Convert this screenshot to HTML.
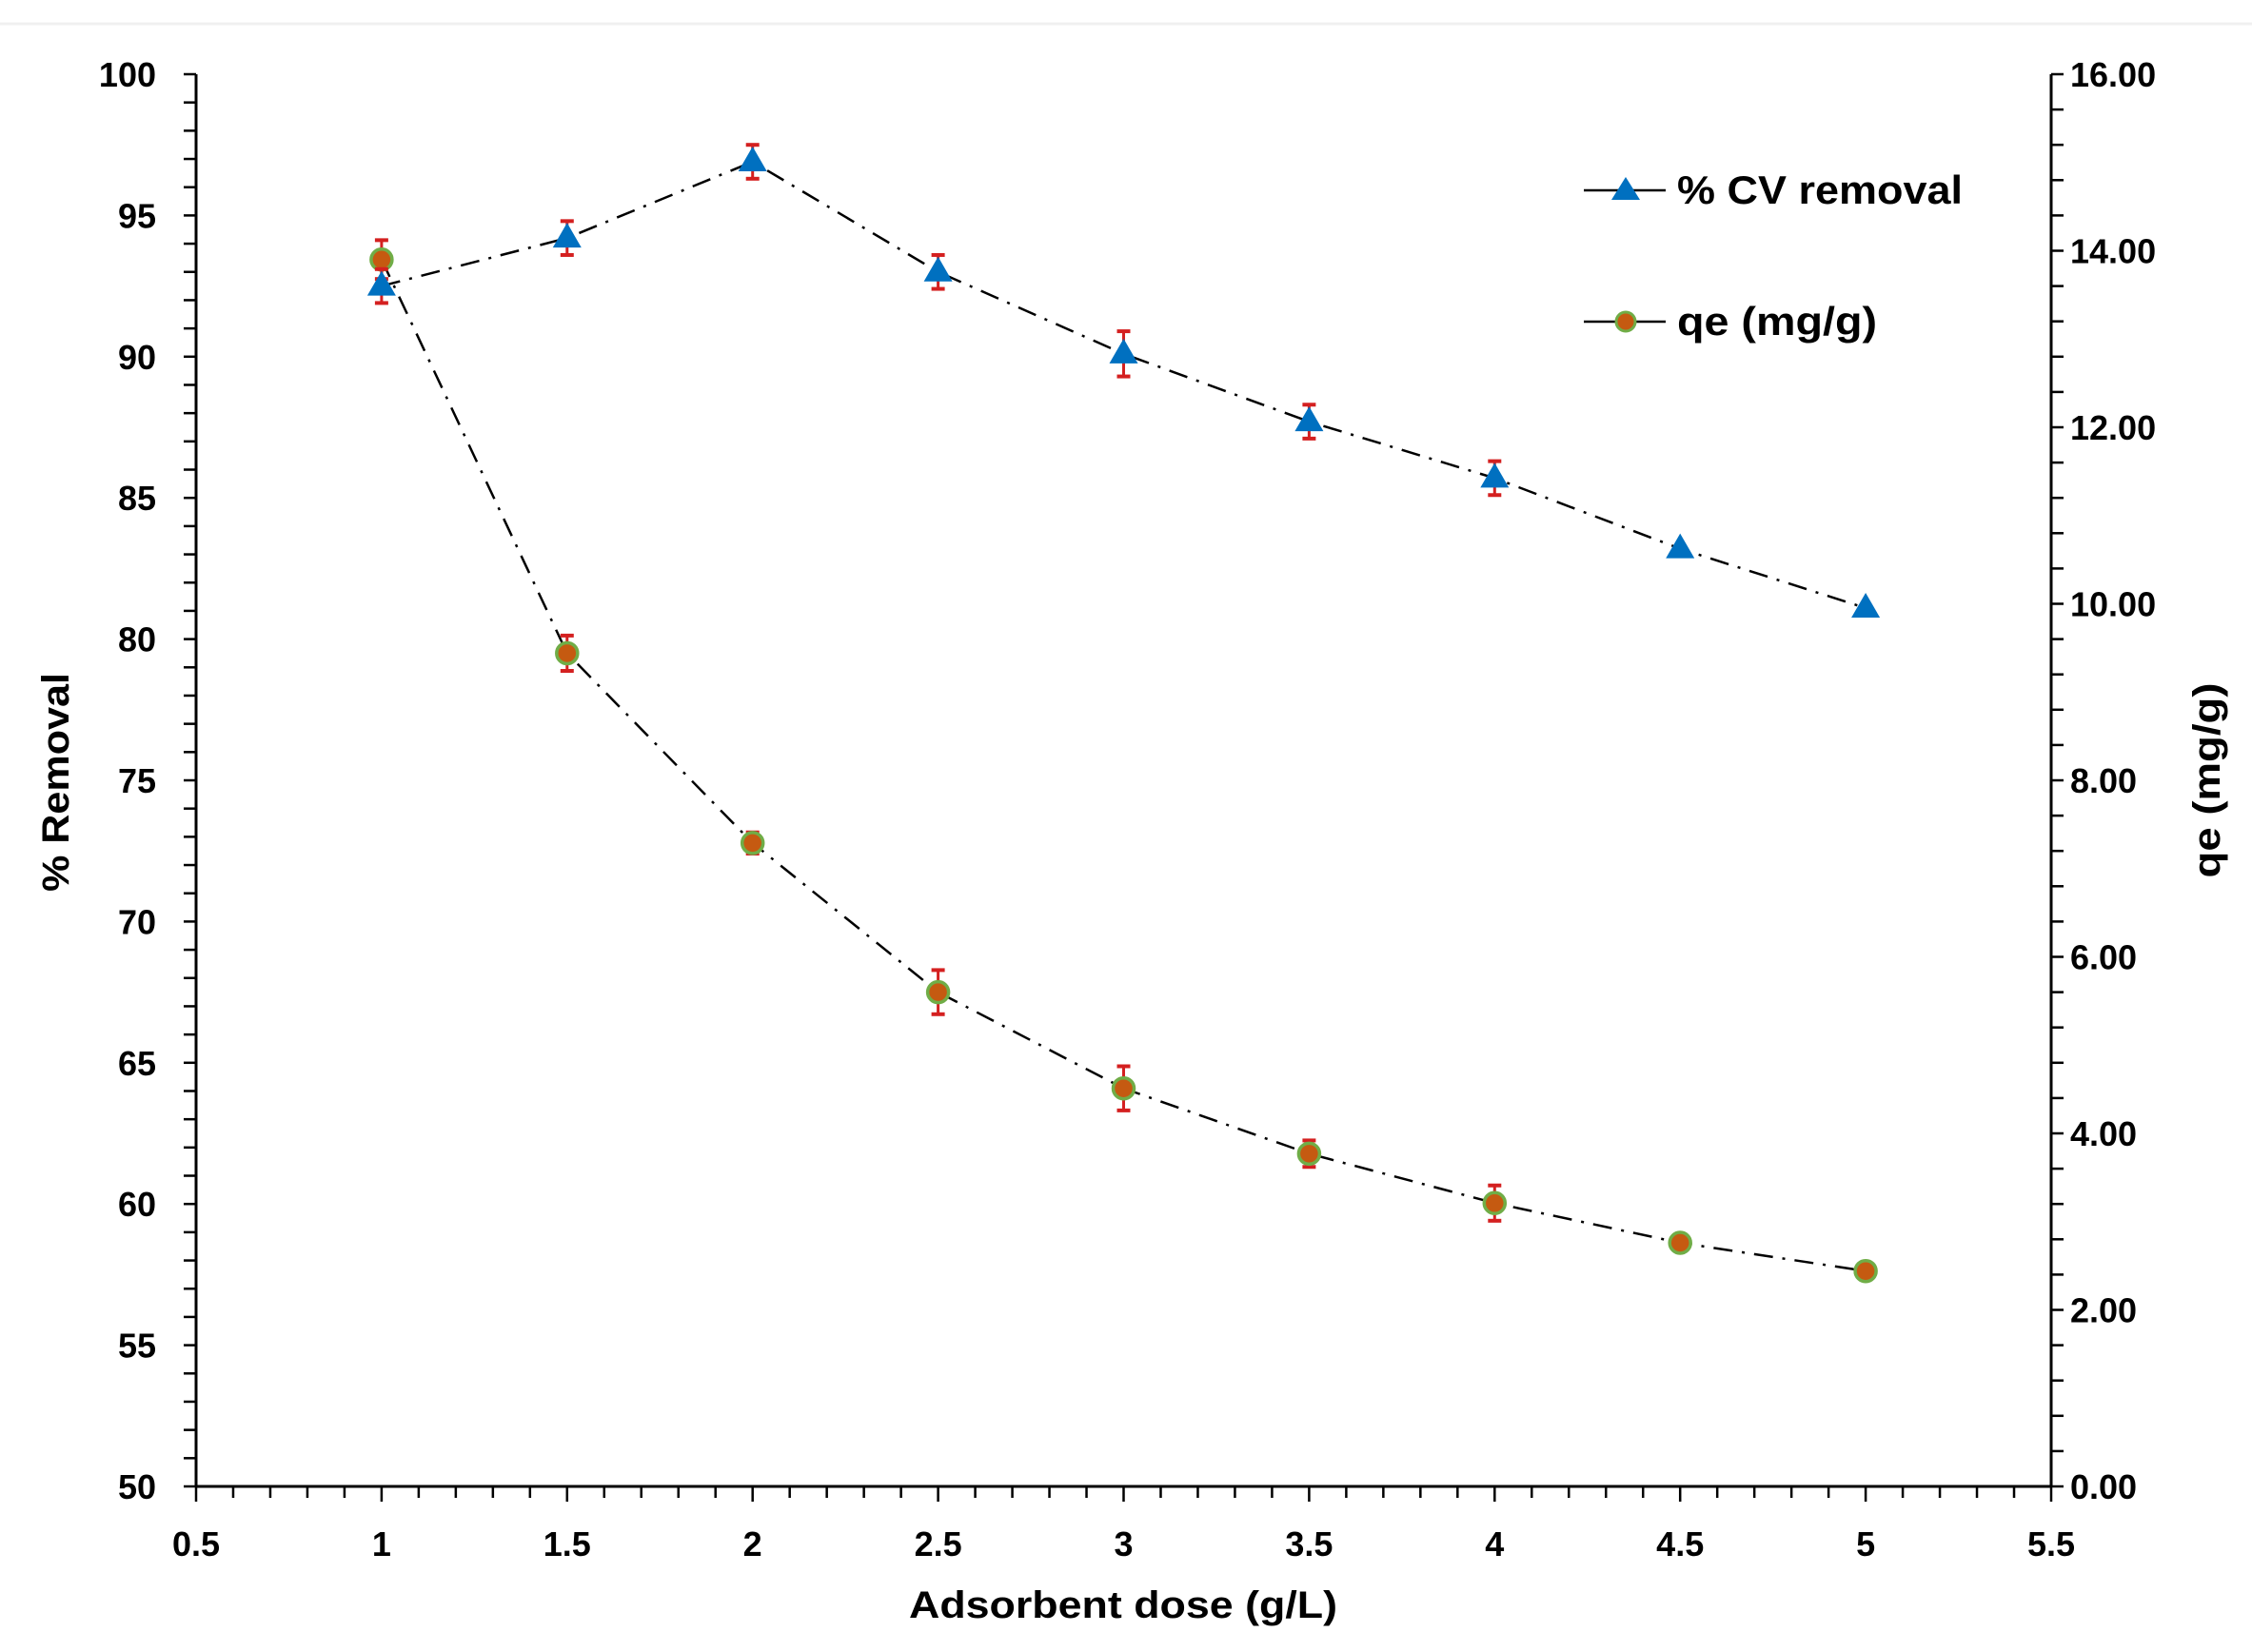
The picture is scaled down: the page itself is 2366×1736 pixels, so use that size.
<!DOCTYPE html>
<html><head><meta charset="utf-8"><style>html,body{margin:0;padding:0;background:#fff}svg{display:block}</style></head>
<body>
<svg width="2366" height="1736" viewBox="0 0 2366 1736" xmlns="http://www.w3.org/2000/svg" font-family="'Liberation Sans', sans-serif" font-weight="bold">
<rect width="2366" height="1736" fill="#fff"/>
<line x1="0" y1="25" x2="2366" y2="25" stroke="#f0f0f0" stroke-width="3"/>
<g id="axes" stroke="#000" stroke-width="3" fill="none">
<line x1="206" y1="78" x2="206" y2="1563"/>
<line x1="2155" y1="78" x2="2155" y2="1563"/>
<line x1="206" y1="1562" x2="2155" y2="1562"/>
</g>
<g stroke="#000" stroke-width="2.5" id="ticks"></g>
<g font-size="36" fill="#000" id="labels"></g>
<text x="1180" y="1700" font-size="40" text-anchor="middle" textLength="450" lengthAdjust="spacingAndGlyphs">Adsorbent dose (g/L)</text>
<text transform="translate(72,822) rotate(-90)" font-size="40" text-anchor="middle" textLength="230" lengthAdjust="spacingAndGlyphs">% Removal</text>
<text transform="translate(2332,820) rotate(-90)" font-size="40" text-anchor="middle" textLength="205" lengthAdjust="spacingAndGlyphs">qe (mg/g)</text>
<g id="series"></g>
<g id="legend">
<line x1="1664" y1="200" x2="1750" y2="200" stroke="#000" stroke-width="2.5"/>
<polygon points="1708,186 1723,210 1693,210" fill="#0070c0"/>
<text x="1762" y="214" font-size="42" textLength="300" lengthAdjust="spacingAndGlyphs">% CV removal</text>
<line x1="1664" y1="338" x2="1750" y2="338" stroke="#000" stroke-width="2.5"/>
<circle cx="1708" cy="338" r="10" fill="#c55a11" stroke="#70ad47" stroke-width="3"/>
<text x="1762" y="352" font-size="42" textLength="210" lengthAdjust="spacingAndGlyphs">qe (mg/g)</text>
</g>
<script>
const NS="http://www.w3.org/2000/svg";
function el(p,t,a,txt){const e=document.createElementNS(NS,t);for(const k in a)e.setAttribute(k,a[k]);if(txt!==undefined)e.textContent=txt;document.getElementById(p).appendChild(e);return e;}
const px=x=>206+(x-0.5)*389.8, pyL=v=>78+(100-v)*29.68, pyR=q=>1562-q*92.75;
for(let v=50;v<=100;v++){el('ticks','line',{x1:193,y1:pyL(v),x2:206,y2:pyL(v)});}
for(let v=50;v<=100;v+=5){el('labels','text',{x:164,y:pyL(v)+13,'text-anchor':'end'},String(v));}
for(let i=0;i<=40;i++){const q=i*0.4;el('ticks','line',{x1:2155,y1:pyR(q),x2:2168,y2:pyR(q)});}
for(let q=0;q<=16;q+=2){el('labels','text',{x:2175,y:pyR(q)+13},q.toFixed(2));}
for(let i=5;i<=55;i++){const x=i/10;const maj=i%5==0;el('ticks','line',{x1:px(x),y1:1562,x2:px(x),y2:maj?1578:1574});}
for(let i=1;i<=11;i++){const x=i*0.5;el('labels','text',{x:px(x),y:1635,'text-anchor':'middle'},String(x));}
const xs=[1,1.5,2,2.5,3,3.5,4,4.5,5];
const rem=[92.5,94.2,96.9,93.0,90.1,87.7,85.7,83.2,81.1];
const remE=[0.6,0.6,0.6,0.6,0.8,0.6,0.6,0,0];
const qe=[13.9,9.44,7.29,5.60,4.51,3.77,3.21,2.76,2.44];
const qeE=[0.22,0.2,0.12,0.25,0.25,0.15,0.2,0,0];
const dash='20,10,3,10';
el('series','polyline',{points:xs.map((x,i)=>px(x)+','+pyR(qe[i])).join(' '),fill:'none',stroke:'#000','stroke-width':2.5,'stroke-dasharray':dash});
el('series','polyline',{points:xs.map((x,i)=>px(x)+','+pyL(rem[i])).join(' '),fill:'none',stroke:'#000','stroke-width':2.5,'stroke-dasharray':dash});
function eb(x,y,h){if(!h)return;el('series','line',{x1:x,y1:y-h,x2:x,y2:y+h,stroke:'#d42020','stroke-width':3});el('series','line',{x1:x-7,y1:y-h,x2:x+7,y2:y-h,stroke:'#d42020','stroke-width':4});el('series','line',{x1:x-7,y1:y+h,x2:x+7,y2:y+h,stroke:'#d42020','stroke-width':4});}
xs.forEach((x,i)=>{const X=px(x),Y=pyR(qe[i]);eb(X,Y,qeE[i]*92.75);el('series','circle',{cx:X,cy:Y,r:11,fill:'#c55a11',stroke:'#70ad47','stroke-width':3.5});});
xs.forEach((x,i)=>{const X=px(x),Y=pyL(rem[i]);eb(X,Y,remE[i]*29.68);el('series','polygon',{points:`${X},${Y-16} ${X+15},${Y+10} ${X-15},${Y+10}`,fill:'#0070c0'});});
</script>
</svg>
</body></html>
